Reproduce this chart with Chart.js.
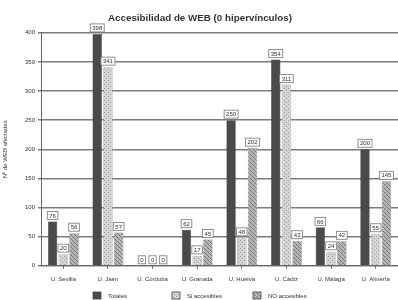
<!DOCTYPE html>
<html>
<head>
<meta charset="utf-8">
<script src="https://cdn.jsdelivr.net/npm/chart.js@4"></script>
<style>
  html, body { margin: 0; padding: 0; background: #fff; }
  #wrap { width: 398px; height: 300px; }
</style>
</head>
<body>
<div id="wrap"><canvas id="webChart" width="398" height="300"></canvas></div>
<script>
// ── DATOS ─────────────────────────────────────────────
const universidades = ['U. Sevilla', 'U. Jaén', 'U. Córdoba', 'U. Granada', 'U. Huelva', 'U. Cádiz', 'U. Málaga', 'U. Almería'];
const totales       = [76, 398, 0, 62, 250, 354, 66, 200];
const siAccesibles  = [20, 341, 0, 17, 48, 311, 24, 55];
const noAccesibles  = [56, 57, 0, 45, 202, 43, 42, 145];
const yTicks        = [0, 50, 100, 150, 200, 250, 300, 350, 400];

const FONT = 'Liberation Sans, Arial, sans-serif';

// ── PATRONES ──────────────────────────────────────────
function makePattern(bg, draw) {
  const c = document.createElement('canvas');
  c.width = 4; c.height = 4;
  const g = c.getContext('2d');
  g.fillStyle = bg;
  g.fillRect(0, 0, 4, 4);
  draw(g);
  return g.createPattern(c, 'repeat');
}
const patSi = makePattern('#d4d4d4', g => {
  g.fillStyle = '#a0a0a0';
  g.fillRect(0, 0, 1, 1);
  g.fillRect(2, 2, 1, 1);
});
const patNo = makePattern('#b4b4b4', g => {
  g.fillStyle = '#7a7a7a';
  g.fillRect(0, 0, 1, 1);
  g.fillRect(1, 1, 1, 1);
  g.fillRect(2, 2, 1, 1);
  g.fillRect(3, 3, 1, 1);
});

// ── ETIQUETAS DE VALOR ────────────────────────────────
const valueLabels = {
  id: 'valueLabels',
  afterDatasetsDraw(chart) {
    const ctx = chart.ctx;
    ctx.save();
    ctx.font = '6px ' + FONT;
    ctx.textAlign = 'center';
    ctx.textBaseline = 'middle';
    chart.data.datasets.forEach((ds, i) => {
      const meta = chart.getDatasetMeta(i);
      meta.data.forEach((bar, j) => {
        const txt = String(ds.data[j]);
        const w = ctx.measureText(txt).width + 4;
        const h = 8;
        const x = bar.x;
        const y = bar.y - 2 - h / 2;
        ctx.fillStyle = '#fff';
        ctx.fillRect(x - w / 2, y - h / 2, w, h);
        ctx.strokeStyle = '#777';
        ctx.lineWidth = 0.8;
        ctx.strokeRect(x - w / 2, y - h / 2, w, h);
        ctx.fillStyle = '#333';
        ctx.fillText(txt, x, y + 0.5);
      });
    });
    ctx.restore();
  }
};

// ── LEYENDA (posiciones fijas, como el original) ──────
const legendX = [93, 172, 253];
const fixedLegend = {
  id: 'fixedLegend',
  afterDraw(chart) {
    const ctx = chart.ctx;
    ctx.save();
    ctx.font = '6px ' + FONT;
    ctx.textAlign = 'left';
    ctx.textBaseline = 'middle';
    chart.data.datasets.forEach((ds, i) => {
      const x = legendX[i];
      const y = 292;
      ctx.fillStyle = ds.backgroundColor;
      ctx.fillRect(x, y, 8, 7);
      ctx.strokeStyle = '#444';
      ctx.lineWidth = 0.8;
      ctx.strokeRect(x, y, 8, 7);
      ctx.fillStyle = '#333';
      ctx.fillText(ds.label, x + 15, y + 4);
    });
    ctx.restore();
  }
};

// ── GRÁFICO ───────────────────────────────────────────
const ctx = document.getElementById('webChart').getContext('2d');
new Chart(ctx, {
  type: 'bar',
  data: {
    labels: universidades,
    datasets: [
      { label: 'Totales', data: totales, backgroundColor: '#4a4a4a', borderColor: '#333', borderWidth: 0.5 },
      { label: 'Si accesibles', data: siAccesibles, backgroundColor: patSi, borderColor: '#888', borderWidth: 0.5 },
      { label: 'NO accesibles', data: noAccesibles, backgroundColor: patNo, borderColor: '#777', borderWidth: 0.5 },
    ],
  },
  plugins: [valueLabels, fixedLegend],
  options: {
    responsive: false,
    animation: false,
    layout: { padding: { left: 2, right: 0, top: 0, bottom: 10 } },
    datasets: { bar: { categoryPercentage: 0.72, barPercentage: 0.88 } },
    plugins: {
      title: {
        display: true,
        text: 'Accesibilidad de WEB (0 hipervínculos)',
        color: '#333',
        font: { family: FONT, size: 9.8, weight: 'bold' },
        padding: { top: 12, bottom: 9 },
      },
      legend: { display: false },
      tooltip: { enabled: false },
    },
    scales: {
      x: {
        grid: { display: true, drawOnChartArea: false, offset: false, color: '#666', tickLength: 3 },
        border: { color: '#666' },
        ticks: { color: '#333', font: { family: FONT, size: 6 }, maxRotation: 0, padding: 7 },
      },
      y: {
        min: 0,
        max: 400,
        afterBuildTicks: axis => { axis.ticks = yTicks.map(v => ({ value: v })); },
        afterFit: axis => { axis.width = 39; },
        grid: { color: '#7c7c7c', lineWidth: 1.5, tickLength: 3 },
        border: { color: '#666' },
        ticks: { color: '#333', font: { family: FONT, size: 6 }, padding: 3 },
        title: {
          display: true,
          text: 'Nº de WEB afectadas',
          color: '#333',
          font: { family: FONT, size: 6 },
          padding: 0,
        },
      },
    },
  },
});
</script>
</body>
</html>
